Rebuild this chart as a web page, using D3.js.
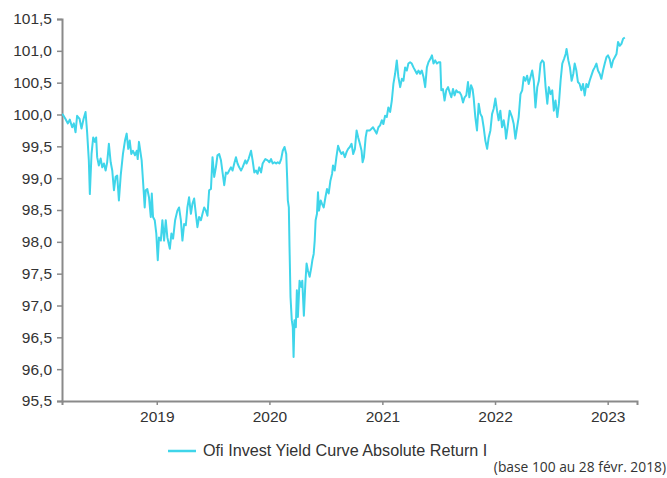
<!DOCTYPE html>
<html>
<head>
<meta charset="utf-8">
<script src="https://cdn.jsdelivr.net/npm/d3@7"></script>
<style>
  body { margin: 0; background: #fff; }
  svg { display: block; }
</style>
</head>
<body>
<svg id="chart" width="667" height="478"></svg>
<script>
// dates as decimal years
const dates = [
  2018.159, 2018.166, 2018.190, 2018.211, 2018.228, 2018.249, 2018.264, 2018.279, 2018.293, 2018.315,
  2018.332, 2018.350, 2018.368, 2018.382, 2018.397, 2018.406, 2018.421, 2018.436, 2018.451, 2018.462,
  2018.471, 2018.486, 2018.502, 2018.516, 2018.531, 2018.546, 2018.560, 2018.575, 2018.591, 2018.605,
  2018.620, 2018.635, 2018.649, 2018.664, 2018.680, 2018.700, 2018.718, 2018.733, 2018.747, 2018.760,
  2018.774, 2018.789, 2018.807, 2018.822, 2018.831, 2018.842, 2018.866, 2018.878, 2018.893, 2018.902,
  2018.916, 2018.931, 2018.947, 2018.956, 2018.967, 2018.982, 2018.996,
  2019.009, 2019.020, 2019.036, 2019.050, 2019.065, 2019.080, 2019.094, 2019.116, 2019.130, 2019.145,
  2019.163, 2019.183, 2019.198, 2019.214, 2019.228, 2019.243, 2019.258, 2019.272, 2019.287, 2019.303,
  2019.317, 2019.332, 2019.347, 2019.361, 2019.376, 2019.392, 2019.406, 2019.421, 2019.436, 2019.450,
  2019.465, 2019.481, 2019.495, 2019.510, 2019.525, 2019.539, 2019.554, 2019.570, 2019.584, 2019.599,
  2019.614, 2019.628, 2019.643, 2019.659, 2019.673, 2019.688, 2019.703, 2019.717, 2019.732, 2019.748,
  2019.762, 2019.786, 2019.797, 2019.815, 2019.837, 2019.851, 2019.866, 2019.881, 2019.895, 2019.910,
  2019.926, 2019.940, 2019.964, 2019.984,
  2020.000, 2020.015, 2020.029, 2020.045, 2020.060, 2020.074, 2020.089, 2020.104, 2020.118, 2020.134,
  2020.149, 2020.158, 2020.163, 2020.172, 2020.178, 2020.187, 2020.198, 2020.207, 2020.214, 2020.222,
  2020.234, 2020.243, 2020.252, 2020.267, 2020.282, 2020.291, 2020.305, 2020.318, 2020.329, 2020.341,
  2020.356, 2020.371, 2020.380, 2020.392, 2020.401, 2020.409, 2020.421, 2020.430, 2020.439, 2020.454,
  2020.465, 2020.481, 2020.496, 2020.510, 2020.525, 2020.540, 2020.555, 2020.563, 2020.578, 2020.593,
  2020.608, 2020.623, 2020.638, 2020.652, 2020.668, 2020.683, 2020.697, 2020.712, 2020.727, 2020.742,
  2020.757, 2020.772, 2020.786, 2020.801, 2020.816, 2020.825, 2020.837, 2020.852, 2020.863, 2020.890,
  2020.917, 2020.949, 2020.965, 2020.980, 2020.995,
  2021.009, 2021.024, 2021.039, 2021.053, 2021.069, 2021.084, 2021.098, 2021.113, 2021.128, 2021.142,
  2021.158, 2021.173, 2021.187, 2021.202, 2021.217, 2021.231, 2021.246, 2021.261, 2021.276, 2021.291,
  2021.306, 2021.320, 2021.335, 2021.350, 2021.365, 2021.380, 2021.395, 2021.409, 2021.425, 2021.440,
  2021.454, 2021.469, 2021.484, 2021.499, 2021.514, 2021.523, 2021.538, 2021.552, 2021.567, 2021.583,
  2021.597, 2021.612, 2021.627, 2021.641, 2021.656, 2021.671, 2021.686, 2021.701, 2021.716, 2021.730,
  2021.745, 2021.760, 2021.772, 2021.787, 2021.801, 2021.810, 2021.825, 2021.840, 2021.855, 2021.870,
  2021.885, 2021.899, 2021.914, 2021.930, 2021.944, 2021.959, 2021.974, 2021.988,
  2022.003, 2022.018, 2022.032, 2022.047, 2022.062, 2022.077, 2022.092, 2022.098, 2022.112, 2022.130,
  2022.151, 2022.166, 2022.181, 2022.196, 2022.210, 2022.226, 2022.241, 2022.255, 2022.270, 2022.285,
  2022.299, 2022.315, 2022.330, 2022.344, 2022.359, 2022.375, 2022.389, 2022.404, 2022.419, 2022.433,
  2022.449, 2022.464, 2022.478, 2022.493, 2022.508, 2022.522, 2022.537, 2022.553, 2022.567, 2022.582,
  2022.597, 2022.612, 2022.627, 2022.635, 2022.651, 2022.665, 2022.680, 2022.695, 2022.707, 2022.722,
  2022.736, 2022.751, 2022.766, 2022.781, 2022.796, 2022.811, 2022.825, 2022.840, 2022.855, 2022.870,
  2022.885, 2022.900, 2022.914, 2022.929, 2022.944, 2022.959, 2022.974, 2022.989,
  2023.003, 2023.018, 2023.033, 2023.048, 2023.063, 2023.078, 2023.092, 2023.107, 2023.122, 2023.137,
  2023.152
];

const values = [
  100.00, 100.00, 99.93, 99.86, 99.92, 99.80, 99.86, 99.72, 99.98, 99.93,
  99.78, 99.93, 100.04, 99.72, 99.28, 98.75, 99.38, 99.64, 99.57, 99.64,
  99.33, 99.20, 99.31, 99.17, 99.23, 99.12, 99.25, 99.54, 99.25, 99.12,
  98.81, 99.02, 99.04, 98.65, 99.04, 99.38, 99.59, 99.70, 99.46, 99.59,
  99.38, 99.43, 99.36, 99.43, 99.30, 99.57, 99.28, 98.96, 98.54, 98.81,
  98.83, 98.70, 98.39, 98.76, 98.39, 98.34, 98.13,
  97.71, 98.07, 98.02, 98.34, 98.02, 98.34, 98.07, 97.89, 98.13, 98.05,
  98.34, 98.49, 98.54, 98.34, 98.02, 98.28, 98.26, 98.54, 98.70, 98.44,
  98.60, 98.68, 98.44, 98.23, 98.39, 98.34, 98.44, 98.54, 98.49, 98.41,
  98.81, 98.83, 99.33, 99.02, 99.17, 99.36, 99.38, 99.28, 99.09, 98.89,
  99.09, 99.07, 99.12, 99.17, 99.12, 99.23, 99.33, 99.23, 99.17, 99.12,
  99.17, 99.28, 99.23, 99.30, 99.43, 99.28, 99.09, 99.12, 99.07, 99.17,
  99.09, 99.23, 99.30, 99.28,
  99.25, 99.30, 99.23, 99.25, 99.23, 99.25, 99.23, 99.30, 99.43, 99.49,
  99.38, 98.96, 98.65, 98.54, 97.92, 97.13, 96.77, 96.66, 96.19, 96.77,
  96.66, 97.24, 96.82, 97.39, 97.29, 97.39, 96.84, 97.34, 97.66, 97.55,
  97.45, 97.60, 97.71, 97.81, 98.02, 98.34, 98.44, 98.78, 98.49, 98.65,
  98.60, 98.54, 98.70, 98.83, 98.76, 98.96, 99.07, 99.20, 99.12, 99.33,
  99.51, 99.43, 99.38, 99.41, 99.33, 99.41, 99.46, 99.49, 99.54, 99.38,
  99.46, 99.75, 99.64, 99.54, 99.43, 99.25, 99.33, 99.64, 99.75, 99.75,
  99.80, 99.70, 99.80, 99.83, 99.91,
  99.85, 99.98, 99.96, 100.11, 100.04, 100.22, 100.48, 100.64, 100.85, 100.59,
  100.43, 100.56, 100.53, 100.74, 100.69, 100.80, 100.82, 100.80, 100.74, 100.69,
  100.64, 100.69, 100.64, 100.69, 100.59, 100.43, 100.74, 100.82, 100.87, 100.93,
  100.80, 100.85, 100.80, 100.82, 100.82, 100.38, 100.40, 100.22, 100.38, 100.43,
  100.35, 100.27, 100.40, 100.30, 100.38, 100.35, 100.35, 100.30, 100.19, 100.27,
  100.30, 100.51, 100.27, 100.46, 100.40, 100.27, 99.96, 99.75, 100.17, 100.01,
  99.96, 99.80, 99.59, 99.46, 99.64, 99.75, 100.01, 100.09,
  100.25, 100.06, 99.91, 100.06, 99.80, 99.91, 99.75, 99.62, 99.80, 100.06,
  99.96, 99.85, 99.62, 99.80, 99.96, 100.32, 100.38, 100.59, 100.53, 100.61,
  100.48, 100.59, 100.69, 100.53, 100.11, 100.43, 100.53, 100.80, 100.85, 100.82,
  100.43, 100.17, 100.43, 100.32, 100.38, 100.06, 100.22, 99.96, 100.17, 100.53,
  100.80, 100.87, 100.95, 101.03, 100.85, 100.74, 100.53, 100.64, 100.80, 100.69,
  100.51, 100.48, 100.38, 100.48, 100.30, 100.48, 100.43, 100.53, 100.61, 100.69,
  100.74, 100.80, 100.69, 100.64, 100.56, 100.69, 100.80, 100.90,
  100.93, 100.87, 100.74, 100.85, 100.90, 100.95, 101.14, 101.08, 101.11, 101.19,
  101.21
];

const yTicks = [95.5, 96, 96.5, 97, 97.5, 98, 98.5, 99, 99.5, 100, 100.5, 101, 101.5];
const xTickYears = [2019, 2020, 2021, 2022, 2023];
const seriesName = 'Ofi Invest Yield Curve Absolute Return I';
const footnote = '(base 100 au 28 févr. 2018)';

// decimal year -> Date
function toDate(t) {
  const y = Math.floor(t);
  const start = Date.UTC(y, 0, 1);
  const end = Date.UTC(y + 1, 0, 1);
  return new Date(start + (t - y) * (end - start));
}

const data = dates.map((t, i) => ({date: toDate(t), value: values[i]}));

const margin = {left: 62, right: 30, top: 19, bottom: 77};
const width = 667, height = 478;

const svg = d3.select('#chart');

const x = d3.scaleUtc()
  .domain([new Date(Date.UTC(2018, 1, 28)), new Date(Date.UTC(2023, 3, 6))])
  .range([margin.left, width - margin.right]);

const y = d3.scaleLinear()
  .domain([95.5, 101.5])
  .range([height - margin.bottom, margin.top]);

const fmt = v => d3.format('.1f')(v).replace('.', ',');
const axisColor = '#8a8a8a';
const textColor = '#333333';

// y axis
const yAxis = svg.append('g')
  .attr('transform', 'translate(' + margin.left + ',0)')
  .call(d3.axisLeft(y).tickValues(yTicks).tickFormat(fmt).tickSize(5).tickPadding(5));
yAxis.select('.domain').attr('stroke', axisColor).attr('stroke-width', 2);
yAxis.selectAll('.tick line').attr('stroke', axisColor).attr('stroke-width', 1.5);
yAxis.selectAll('text')
  .attr('fill', textColor)
  .style('font-family', '"Liberation Sans", Arial, sans-serif')
  .style('font-size', '15.5px');

// x axis
const xAxis = svg.append('g')
  .attr('transform', 'translate(0,' + (height - margin.bottom) + ')')
  .call(d3.axisBottom(x)
    .tickValues(xTickYears.map(yr => new Date(Date.UTC(yr, 0, 1))))
    .tickFormat(d3.utcFormat('%Y'))
    .tickSize(4)
    .tickPadding(6));
xAxis.select('.domain').attr('stroke', axisColor).attr('stroke-width', 2);
xAxis.selectAll('.tick line').attr('stroke', axisColor).attr('stroke-width', 1.5);
xAxis.selectAll('text')
  .attr('fill', textColor)
  .style('font-family', '"Liberation Sans", Arial, sans-serif')
  .style('font-size', '15.5px');

// series line
const line = d3.line()
  .x(d => x(d.date))
  .y(d => y(d.value));

svg.append('path')
  .datum(data)
  .attr('fill', 'none')
  .attr('stroke', '#3fd5ea')
  .attr('stroke-width', 2)
  .attr('stroke-linejoin', 'round')
  .attr('d', line);

// legend
svg.append('line')
  .attr('x1', 168).attr('x2', 196)
  .attr('y1', 451).attr('y2', 451)
  .attr('stroke', '#3fd5ea')
  .attr('stroke-width', 2.5);

svg.append('text')
  .attr('x', 203)
  .attr('y', 456)
  .attr('fill', textColor)
  .style('font-family', '"Liberation Sans", Arial, sans-serif')
  .style('font-size', '16.2px')
  .text(seriesName);

// footnote
svg.append('text')
  .attr('x', 666)
  .attr('y', 472)
  .attr('text-anchor', 'end')
  .attr('fill', textColor)
  .style('font-family', '"Open Sans", sans-serif')
  .style('font-size', '13.8px')
  .text(footnote);
</script>
</body>
</html>
